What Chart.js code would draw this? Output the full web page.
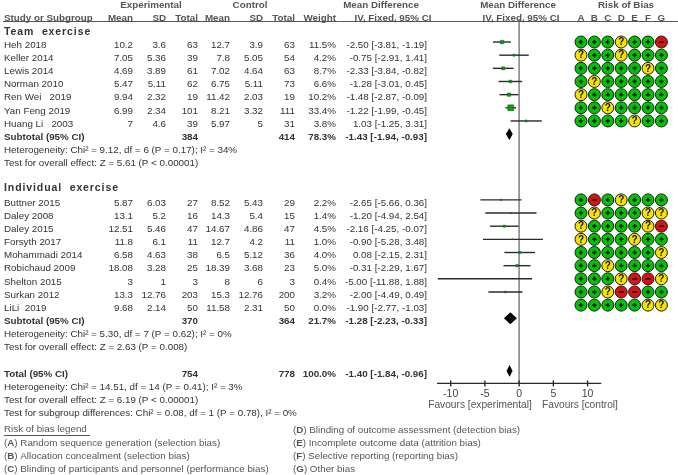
<!DOCTYPE html>
<html>
<head>
<meta charset="utf-8">
<title>Forest plot</title>
<script src="https://cdn.jsdelivr.net/npm/chart.js@4/dist/chart.umd.js"></script>
<style>
html,body{margin:0;padding:0;background:#fff;}
canvas{display:block;filter:blur(0.5px);}
</style>
</head>
<body>
<canvas id="forest" width="678" height="475"></canvas>
<script>
// ---------- data ----------
const teamStudies=['Heh 2018','Keller 2014','Lewis 2014','Norman 2010','Ren Wei   2019','Yan Feng 2019','Huang Li   2003'];
const teamExpMean=[10.2,7.05,4.69,5.47,9.94,6.99,7];
const teamExpSd=[3.6,5.36,3.89,5.11,2.32,2.34,4.6];
const teamExpN=[63,39,61,62,19,101,39];
const teamCtlMean=[12.7,7.8,7.02,6.75,11.42,8.21,5.97];
const teamCtlSd=[3.9,5.05,4.64,5.11,2.03,3.32,5];
const teamCtlN=[63,54,63,73,19,111,31];
const teamWeight=[11.5,4.2,8.7,6.6,10.2,33.4,3.8];
const teamMd=[-2.50,-0.75,-2.33,-1.28,-1.48,-1.22,1.03];
const teamLow=[-3.81,-2.91,-3.84,-3.01,-2.87,-1.99,-1.25];
const teamHigh=[-1.19,1.41,-0.82,0.45,-0.09,-0.45,3.31];
const teamBias=['+++?++-','?++?+++','+++++?+','+?+++++','?++++++','++?++++','++++?++'];

const indStudies=['Buttner 2015','Daley 2008','Daley 2015','Forsyth 2017','Mohammadi 2014','Robichaud 2009','Shelton 2015','Surkan 2012','LiLi  2019'];
const indExpMean=[5.87,13.1,12.51,11.8,6.58,18.08,3,13.3,9.68];
const indExpSd=[6.03,5.2,5.46,6.1,4.63,3.28,1,12.76,2.14];
const indExpN=[27,16,47,11,38,25,3,203,50];
const indCtlMean=[8.52,14.3,14.67,12.7,6.5,18.39,8,15.3,11.58];
const indCtlSd=[5.43,5.4,4.86,4.2,5.12,3.68,6,12.76,2.31];
const indCtlN=[29,15,47,11,36,23,3,200,50];
const indWeight=[2.2,1.4,4.5,1.0,4.0,5.0,0.4,3.2,0.0];
const indMd=[-2.65,-1.20,-2.16,-0.90,0.08,-0.31,-5.00,-2.00,-1.90];
const indLow=[-5.66,-4.94,-4.25,-5.28,-2.15,-2.29,-11.88,-4.49,-2.77];
const indHigh=[0.36,2.54,-0.07,3.48,2.31,1.67,1.88,0.49,-1.03];
const indBias=['+-+?+++','+?+++??','?++++?-','?+++?++','++++++?','++?++++','+++?--?','++?--++','+++++??'];

const pooledLabels=['Subtotal (95% CI)','Subtotal (95% CI)','Total (95% CI)'];
const pooledExpN=[384,370,754];
const pooledCtlN=[414,364,778];
const pooledWeight=[78.3,21.7,100.0];
const pooledMd=[-1.43,-1.28,-1.40];
const pooledLow=[-1.94,-2.23,-1.84];
const pooledHigh=[-0.93,-0.33,-0.96];

const xTicks=[-10,-5,0,5,10];
const biasLetters=['A','B','C','D','E','F','G'];
const teamStats=['Heterogeneity: Chi² = 9.12, df = 6 (P = 0.17); I² = 34%','Test for overall effect: Z = 5.61 (P < 0.00001)'];
const indStats=['Heterogeneity: Chi² = 5.30, df = 7 (P = 0.62); I² = 0%','Test for overall effect: Z = 2.63 (P = 0.008)'];
const totalStats=['Heterogeneity: Chi² = 14.51, df = 14 (P = 0.41); I² = 3%','Test for overall effect: Z = 6.19 (P < 0.00001)','Test for subgroup differences: Chi² = 0.08, df = 1 (P = 0.78), I² = 0%'];
const biasLegendLeft=[['A','Random sequence generation (selection bias)'],['B','Allocation concealment (selection bias)'],['C','Blinding of participants and personnel (performance bias)']];
const biasLegendRight=[['D','Blinding of outcome assessment (detection bias)'],['E','Incomplete outcome data (attrition bias)'],['F','Selective reporting (reporting bias)'],['G','Other bias']];

// ---------- layout ----------
const TEAM_ROW=1, IND_ROW=13, POOLED_ROWS=[8,22,26];
const COL={expMean:133,expSd:166,expN:198,ctlMean:230,ctlSd:263,ctlN:295,weight:336,ci:427};
const TEXT='#333', SOFT='#555';
const FONT='"Liberation Sans", Arial, sans-serif';
const BIAS_COLOR={'+':'#00c400','?':'#f4e200','-':'#d81212'};

const allWeight=[...teamWeight,...indWeight];
const allMd=[...teamMd,...indMd];
const allLow=[...teamLow,...indLow];
const allHigh=[...teamHigh,...indHigh];
const allRows=[...teamMd.map((_,i)=>TEAM_ROW+i),...indMd.map((_,i)=>IND_ROW+i)];
const allBias=[...teamBias.map((b,i)=>[b,TEAM_ROW+i]),...indBias.map((b,i)=>[b,IND_ROW+i])];

// gak ada bobot = gak digambar (LiLi 0.0%)
const ciSets=allMd.map((_,i)=>i).filter(i=>allWeight[i]>0).map(i=>({
  type:'scatter', showLine:true, clip:false, pointRadius:0, borderColor:'#2a2a2a', borderWidth:1.4,
  data:[{x:allLow[i],y:allRows[i]},{x:allHigh[i],y:allRows[i]}]
}));

const boxSet={
  type:'scatter', clip:false, pointStyle:'rect', backgroundColor:'#0c9a0c', borderColor:'#0b5a0b', borderWidth:0.5,
  pointRadius:allWeight.filter(w=>w>0).map(w=>Math.sqrt(w)*0.72),
  data:allMd.map((m,i)=>({x:m,y:allRows[i],w:allWeight[i]})).filter(p=>p.w>0)
};

const diamondSets=pooledMd.map((m,i)=>({
  type:'scatter', showLine:true, clip:false, pointRadius:0, borderWidth:0, tension:0,
  backgroundColor:'#000', fill:'shape',
  data:[
    {x:pooledLow[i],y:POOLED_ROWS[i]},{x:m,y:POOLED_ROWS[i]-0.45},
    {x:pooledHigh[i],y:POOLED_ROWS[i]},{x:m,y:POOLED_ROWS[i]+0.45},
    {x:pooledLow[i],y:POOLED_ROWS[i]}
  ]
}));

const Y_MIN=-0.75, Y_MAX=26.95;

const zeroLine={type:'scatter',showLine:true,clip:false,pointRadius:0,borderColor:'#8a8a8a',borderWidth:1.6,
  data:[{x:0,y:Y_MIN},{x:0,y:Y_MAX}]};
const axisLine={type:'scatter',showLine:true,clip:false,pointRadius:0,borderColor:'#2a2a2a',borderWidth:1.4,
  data:[{x:-12,y:Y_MAX},{x:12,y:Y_MAX}]};
const tickMarks={type:'scatter',clip:false,pointStyle:'line',rotation:90,pointRadius:3,borderColor:'#2a2a2a',borderWidth:1.4,
  data:xTicks.map(t=>({x:t,y:Y_MAX}))};

function biasPoints(kind){
  const pts=[];
  allBias.forEach(([codes,row])=>{
    codes.split('').forEach((c,col)=>{ if(c===kind) pts.push({x:col,y:row}); });
  });
  return pts;
}
const biasSets=['+','?','-'].map(k=>({
  type:'scatter', xAxisID:'xBias', clip:false, pointStyle:'circle', pointRadius:6,
  backgroundColor:BIAS_COLOR[k], borderColor:'#1c1c1c', borderWidth:1,
  data:biasPoints(k)
}));
const plusSet={type:'scatter',xAxisID:'xBias',clip:false,pointStyle:'cross',pointRadius:2.2,borderColor:'#0a0a0a',borderWidth:1.5,data:biasPoints('+')};
const minusSet={type:'scatter',xAxisID:'xBias',clip:false,pointStyle:'line',pointRadius:2.6,borderColor:'#0a0a0a',borderWidth:1.5,data:biasPoints('-')};

// ---------- semua teks tabel digambar di sini ----------
function put(ctx,str,x,y,align,font,color){
  ctx.font=font; ctx.textAlign=align||'left'; ctx.fillStyle=color||TEXT; ctx.textBaseline='middle';
  ctx.fillText(str,x,y);
}

const tablePlugin={
  id:'tablePlugin',
  afterDatasetsDraw(chart){
    const ctx=chart.ctx, ys=chart.scales.y, xb=chart.scales.xBias;
    const rowY=r=>ys.getPixelForValue(r)+3;
    const reg='9.8px '+FONT, bold='bold 9.8px '+FONT;
    ctx.save();

    // header
    put(ctx,'Experimental',151,5,'center',bold,SOFT);
    put(ctx,'Control',250,5,'center',bold,SOFT);
    put(ctx,'Mean Difference',381,5,'center',bold,SOFT);
    put(ctx,'Mean Difference',518,5,'center',bold,SOFT);
    put(ctx,'Risk of Bias',626,5,'center',bold,SOFT);
    put(ctx,'Study or Subgroup',4,18,'left',bold,SOFT);
    ['expMean','expSd','expN','ctlMean','ctlSd','ctlN','weight'].forEach((k,i)=>{
      put(ctx,['Mean','SD','Total','Mean','SD','Total','Weight'][i],COL[k],18,'right',bold,SOFT);
    });
    put(ctx,'IV, Fixed, 95% CI',393,18,'center',bold,SOFT);
    put(ctx,'IV, Fixed, 95% CI',521,18,'center',bold,SOFT);
    biasLetters.forEach((l,i)=>put(ctx,l,xb.getPixelForValue(i),18,'center',bold,SOFT));
    ctx.strokeStyle='#555'; ctx.lineWidth=1;
    ctx.beginPath(); ctx.moveTo(3,21.5); ctx.lineTo(678,21.5); ctx.stroke();

    // subgroup titles
    ctx.letterSpacing='0.9px';
    put(ctx,'Team  exercise',4,32,'left','bold 10.5px '+FONT,TEXT);
    put(ctx,'Individual  exercise',4,188,'left','bold 10.5px '+FONT,TEXT);
    ctx.letterSpacing='0px';

    // study rows
    const drawStudies=(names,m1,s1,n1,m2,s2,n2,w,md,lo,hi,start)=>{
      names.forEach((nm,i)=>{
        const y=rowY(start+i);
        put(ctx,nm,4,y,'left',reg,TEXT);
        put(ctx,String(m1[i]),COL.expMean,y,'right',reg,TEXT);
        put(ctx,String(s1[i]),COL.expSd,y,'right',reg,TEXT);
        put(ctx,String(n1[i]),COL.expN,y,'right',reg,TEXT);
        put(ctx,String(m2[i]),COL.ctlMean,y,'right',reg,TEXT);
        put(ctx,String(s2[i]),COL.ctlSd,y,'right',reg,TEXT);
        put(ctx,String(n2[i]),COL.ctlN,y,'right',reg,TEXT);
        put(ctx,w[i].toFixed(1)+'%',COL.weight,y,'right',reg,TEXT);
        put(ctx,md[i].toFixed(2)+' ['+lo[i].toFixed(2)+', '+hi[i].toFixed(2)+']',COL.ci,y,'right',reg,TEXT);
      });
    };
    drawStudies(teamStudies,teamExpMean,teamExpSd,teamExpN,teamCtlMean,teamCtlSd,teamCtlN,teamWeight,teamMd,teamLow,teamHigh,TEAM_ROW);
    drawStudies(indStudies,indExpMean,indExpSd,indExpN,indCtlMean,indCtlSd,indCtlN,indWeight,indMd,indLow,indHigh,IND_ROW);

    // subtotal + total
    pooledLabels.forEach((lb,i)=>{
      const y=rowY(POOLED_ROWS[i]);
      put(ctx,lb,4,y,'left',bold,TEXT);
      put(ctx,String(pooledExpN[i]),COL.expN,y,'right',bold,TEXT);
      put(ctx,String(pooledCtlN[i]),COL.ctlN,y,'right',bold,TEXT);
      put(ctx,pooledWeight[i].toFixed(1)+'%',COL.weight,y,'right',bold,TEXT);
      put(ctx,pooledMd[i].toFixed(2)+' ['+pooledLow[i].toFixed(2)+', '+pooledHigh[i].toFixed(2)+']',COL.ci,y,'right',bold,TEXT);
    });

    // heterogeneity lines
    teamStats.forEach((s,i)=>put(ctx,s,4,rowY(9+i),'left',reg,TEXT));
    indStats.forEach((s,i)=>put(ctx,s,4,rowY(23+i),'left',reg,TEXT));
    totalStats.forEach((s,i)=>put(ctx,s,4,rowY(27+i),'left',reg,TEXT));

    // risk of bias legend
    put(ctx,'Risk of bias legend',4,429,'left',reg,SOFT);
    ctx.strokeStyle=SOFT; ctx.beginPath(); ctx.moveTo(4,435.5); ctx.lineTo(90,435.5); ctx.stroke();
    const legendLine=(item,x,y)=>{
      let cx=x;
      [['(',reg],[item[0],bold],[') '+item[1],reg]].forEach(([s,f])=>{
        put(ctx,s,cx,y,'left',f,SOFT);
        cx+=ctx.measureText(s).width;
      });
    };
    biasLegendLeft.forEach((it,i)=>legendLine(it,4,443+i*13.2));
    biasLegendRight.forEach((it,i)=>legendLine(it,293,430+i*13.2));

    // favours
    put(ctx,'Favours [experimental]',480,405,'center','10.2px '+FONT,SOFT);
    put(ctx,'Favours [control]',580,405,'center','10.2px '+FONT,SOFT);

    // tanda tanya di lingkaran kuning
    biasPoints('?').forEach(p=>{
      put(ctx,'?',xb.getPixelForValue(p.x),ys.getPixelForValue(p.y)+0.5,'center','bold 10px '+FONT,'#111');
    });
    ctx.restore();
  }
};

// sumbu dikunci ke ukuran area: 6.85 px per unit, 13.4 px per kolom risk of bias
const PX_PER_UNIT=6.85, PX_PER_COL=13.4, ZERO_PX=519, COL_A_PX=581;

new Chart(document.getElementById('forest').getContext('2d'),{
  type:'scatter',
  // dataset pertama digambar paling atas, jadi simbol harus duluan
  data:{datasets:[plusSet,minusSet,...biasSets,tickMarks,axisLine,boxSet,...diamondSets,...ciSets,zeroLine]},
  options:{
    responsive:false, animation:false, devicePixelRatio:1,
    layout:{padding:{left:437,right:0,top:19,bottom:71}},
    plugins:{legend:{display:false},tooltip:{enabled:false},title:{display:false}},
    scales:{
      x:{type:'linear',min:-12,max:20,
        afterBuildTicks:ax=>{ ax.ticks=xTicks.map(v=>({value:v})); },
        afterDataLimits:ax=>{
          const ca=ax.chart.chartArea;
          if(ca&&ca.width){ ax.min=(ca.left-ZERO_PX)/PX_PER_UNIT; ax.max=(ca.right-ZERO_PX)/PX_PER_UNIT; }
        },
        border:{display:false}, grid:{display:false,drawTicks:false},
        ticks:{color:'#444',font:{size:10.5,family:FONT},padding:4,maxRotation:0,autoSkip:false,callback:v=>String(v)}
      },
      // harus display:true biar afterDataLimits jalan, tapi gak kelihatan
      xBias:{type:'linear',position:'top',bounds:'data',min:-10.746,max:7.239,
        afterDataLimits:ax=>{
          const ca=ax.chart.chartArea;
          if(ca&&ca.width){ ax.min=(ca.left-COL_A_PX)/PX_PER_COL; ax.max=(ca.right-COL_A_PX)/PX_PER_COL; }
        },
        border:{display:false}, grid:{display:false,drawTicks:false}, ticks:{display:false}
      },
      y:{type:'linear',display:false,reverse:true,min:Y_MIN,max:Y_MAX}
    }
  },
  plugins:[tablePlugin]
}).update();
</script>
</body>
</html>
